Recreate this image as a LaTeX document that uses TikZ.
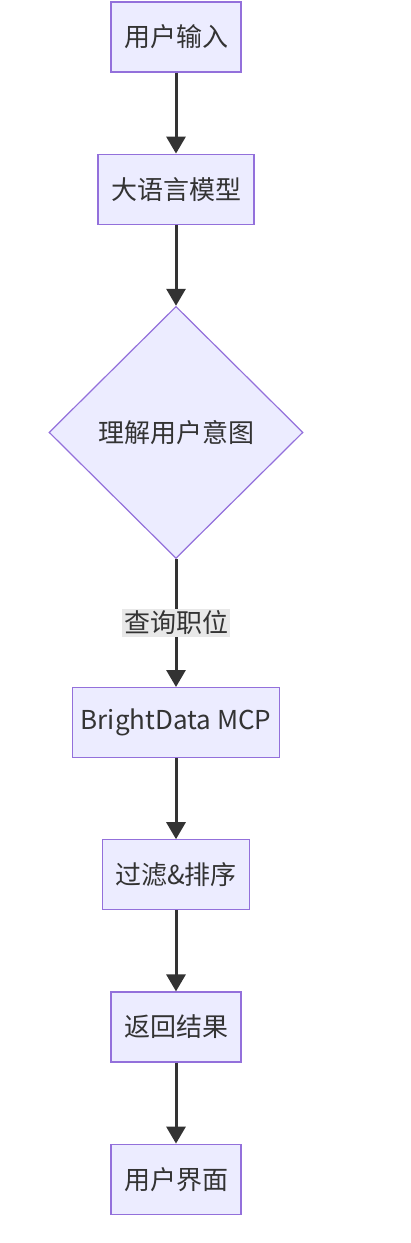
\documentclass[tikz,border=0pt]{standalone}
\usepackage{fontspec}
\setmainfont{Noto Sans CJK SC}
\usepackage{xcolor}
\usepackage{tikz}
\usetikzlibrary{shapes.geometric, arrows.meta, positioning}
\definecolor{nodeFill}{HTML}{ECECFF}
\definecolor{nodeBorder}{HTML}{9370DB}
\definecolor{edgeColor}{HTML}{333333}
\definecolor{labelFill}{HTML}{E8E8E8}

\begin{document}
\begin{tikzpicture}[
    node distance=81pt,
    box/.style={rectangle, draw=nodeBorder, fill=nodeFill, line width=1.2pt, minimum height=70pt, inner xsep=13pt, align=center, text=edgeColor, font=\fontsize{26}{30}\selectfont},
    decision/.style={diamond, draw=nodeBorder, fill=nodeFill, line width=1.2pt, minimum width=254pt, minimum height=252pt, inner sep=0pt, text=edgeColor, font=\fontsize{26}{30}\selectfont},
    edgelabel/.style={fill=labelFill, inner xsep=2pt, inner ysep=2pt, text=edgeColor, font=\fontsize{26}{30}\selectfont},
    arrow/.style={-{Triangle[length=17pt, width=19pt]}, line width=3pt, draw=edgeColor}
]
    \useasboundingbox (0,0) rectangle (411pt,-1243pt);

    % Input and model
    \node[box] (input) at (176pt,-37pt) {用户输入};
    \node[box, below=of input] (llm) {大语言模型};

    % Intent check
    \node[decision, below=of llm] (intent) {理解用户意图};

    % Job search
    \node[box, inner xsep=8pt, below=128pt of intent] (bright) {BrightData MCP};
    \node[box, below=of bright] (filter) {过滤\&排序};
    \node[box, below=of filter] (result) {返回结果};

    % Output
    \node[box, below=of result] (ui) {用户界面};

    % Arrows
    \draw[arrow] (input) -- (llm);
    \draw[arrow] (llm) -- (intent);
    \draw[arrow] (intent) -- node[edgelabel] {查询职位} (bright);
    \draw[arrow] (bright) -- (filter);
    \draw[arrow] (filter) -- (result);
    \draw[arrow] (result) -- (ui);

\end{tikzpicture}
\end{document}
